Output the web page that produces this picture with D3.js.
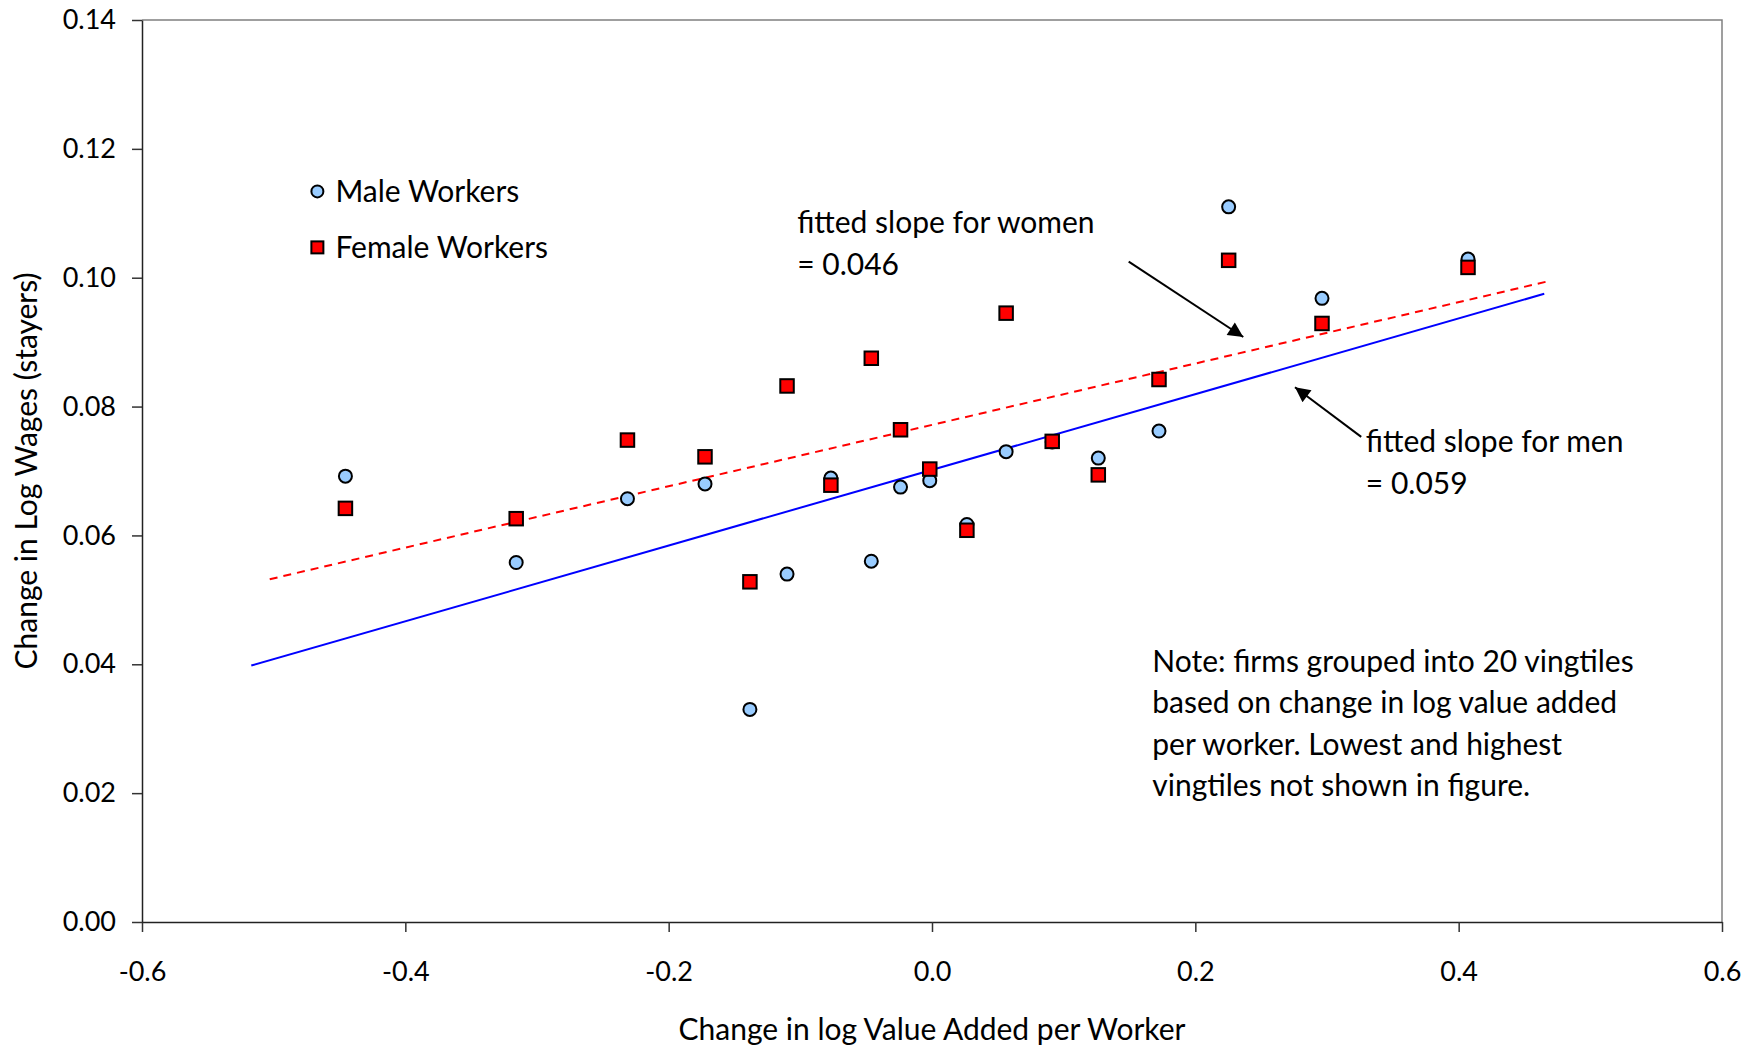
<!DOCTYPE html>
<html>
<head>
<meta charset="utf-8">
<script src="https://cdn.jsdelivr.net/npm/d3@7"></script>
<style>
	body { margin: 0; background: #fff; }
	text { font-family: Lato, "Open Sans", sans-serif; fill: #000; }
</style>
</head>
<body>
<div id="chart-area"></div>
<script>

// vingtile midpoints (change in log value added per worker)
const vingtileX = [-0.4455, -0.3158, -0.2313, -0.1724, -0.1383, -0.1101, -0.0768, -0.0461, -0.0239,
	-0.0017, 0.0265, 0.0563, 0.0913, 0.1263, 0.1724, 0.2253, 0.2962, 0.4071];

// change in log wages of stayers
const maleWage = [0.0692, 0.0558, 0.0657, 0.0680, 0.0330, 0.0540, 0.0689, 0.0560, 0.0675,
	0.0685, 0.0617, 0.0730, 0.0745, 0.0720, 0.0762, 0.1110, 0.0968, 0.1029];
const femaleWage = [0.0642, 0.0626, 0.0748, 0.0722, 0.0528, 0.0832, 0.0678, 0.0875, 0.0764,
	0.0703, 0.0608, 0.0945, 0.0746, 0.0694, 0.0842, 0.1027, 0.0929, 0.1016];

// fitted lines, endpoints [x, y]
const maleFit = [[-0.517, 0.0398], [0.465, 0.0975]];
const femaleFit = [[-0.503, 0.0532], [0.467, 0.0994]];

const xTicks = [-0.6, -0.4, -0.2, 0.0, 0.2, 0.4, 0.6];
const yTicks = [0.00, 0.02, 0.04, 0.06, 0.08, 0.10, 0.12, 0.14];

const legendLabels = ["Male Workers", "Female Workers"];
const noteLines = ["Note: firms grouped into 20 vingtiles", "based on change in log value added",
	"per worker. Lowest and highest", "vingtiles not shown in figure."];


class WageScatterVis {

	constructor(_parentElement) {
		this.parentElement = _parentElement;
		this.initVis();
	}

	initVis() {
		let vis = this;

		vis.margin = { top: 20, right: 39, bottom: 127, left: 142 };
		vis.width = 1761 - vis.margin.left - vis.margin.right;
		vis.height = 1049 - vis.margin.top - vis.margin.bottom;

		vis.svg = d3.select("#" + vis.parentElement).append("svg")
			.attr("width", 1761)
			.attr("height", 1049)
			.append("g")
			.attr("transform", "translate(" + vis.margin.left + "," + vis.margin.top + ")");

		vis.x = d3.scaleLinear().domain([-0.6, 0.6]).range([0, vis.width]);
		vis.y = d3.scaleLinear().domain([0, 0.14]).range([vis.height, 0]);

		// plot area border (top + right)
		vis.svg.append("path")
			.attr("d", "M0,0H" + vis.width + "V" + vis.height)
			.attr("fill", "none")
			.attr("stroke", "#808080")
			.attr("stroke-width", 1.5);

		// axes
		let xAxis = d3.axisBottom(vis.x).tickValues(xTicks).tickSize(10).tickSizeOuter(0)
			.tickFormat(d => d.toFixed(1));
		let yAxis = d3.axisLeft(vis.y).tickValues(yTicks).tickSize(10).tickSizeOuter(0)
			.tickFormat(d => d.toFixed(2));

		let gx = vis.svg.append("g")
			.attr("transform", "translate(0," + vis.height + ")")
			.call(xAxis);
		let gy = vis.svg.append("g").call(yAxis);

		[gx, gy].forEach(g => {
			g.select(".domain").attr("stroke", "#222").attr("stroke-width", 1.5);
			g.selectAll(".tick line").attr("stroke", "#333").attr("stroke-width", 1.5);
			g.selectAll(".tick text").style("font-size", "27px").attr("fill", "#000");
		});
		gx.selectAll(".tick text").attr("y", 40);
		gy.selectAll(".tick text").attr("x", -26);

		// axis titles
		vis.svg.append("text")
			.attr("x", vis.width / 2)
			.attr("y", vis.height + 118)
			.attr("text-anchor", "middle")
			.style("font-size", "30px")
			.text("Change in log Value Added per Worker");

		vis.svg.append("text")
			.attr("transform", "translate(" + (-105) + "," + (vis.height / 2) + ") rotate(-90)")
			.attr("text-anchor", "middle")
			.style("font-size", "30px")
			.text("Change in Log Wages (stayers)");

		// fitted lines
		let line = d3.line().x(d => vis.x(d[0])).y(d => vis.y(d[1]));

		vis.svg.append("path")
			.datum(maleFit)
			.attr("d", line)
			.attr("fill", "none")
			.attr("stroke", "#0000ff")
			.attr("stroke-width", 2);

		vis.svg.append("path")
			.datum(femaleFit)
			.attr("d", line)
			.attr("fill", "none")
			.attr("stroke", "#ff0000")
			.attr("stroke-width", 2)
			.attr("stroke-dasharray", "8,6");

		vis.wrangleData();
	}

	wrangleData() {
		let vis = this;

		vis.maleData = vingtileX.map((x, i) => ({ x: x, y: maleWage[i] }));
		vis.femaleData = vingtileX.map((x, i) => ({ x: x, y: femaleWage[i] }));

		vis.updateVis();
	}

	updateVis() {
		let vis = this;
		const sq = 13.5;

		// male workers: circles
		vis.svg.selectAll(".male")
			.data(vis.maleData)
			.join("circle")
			.attr("class", "male")
			.attr("cx", d => vis.x(d.x))
			.attr("cy", d => vis.y(d.y))
			.attr("r", 6.5)
			.attr("fill", "#99ccff")
			.attr("stroke", "#000")
			.attr("stroke-width", 2);

		// female workers: squares
		vis.svg.selectAll(".female")
			.data(vis.femaleData)
			.join("rect")
			.attr("class", "female")
			.attr("x", d => vis.x(d.x) - sq / 2)
			.attr("y", d => vis.y(d.y) - sq / 2)
			.attr("width", sq)
			.attr("height", sq)
			.attr("fill", "#ff0000")
			.attr("stroke", "#000")
			.attr("stroke-width", 2);

		// legend
		let legend = vis.svg.append("g")
			.attr("transform", "translate(" + vis.x(-0.4668) + "," + vis.y(0.1134) + ")");
		legend.append("circle")
			.attr("cx", 0).attr("cy", 0).attr("r", 6)
			.attr("fill", "#99ccff").attr("stroke", "#000").attr("stroke-width", 2);
		legend.append("rect")
			.attr("x", -6).attr("y", 50).attr("width", 12).attr("height", 12)
			.attr("fill", "#ff0000").attr("stroke", "#000").attr("stroke-width", 2);
		legend.selectAll(".legendLabel")
			.data(legendLabels)
			.join("text")
			.attr("class", "legendLabel")
			.attr("x", 18)
			.attr("y", (d, i) => i * 56)
			.attr("dy", "0.36em")
			.style("font-size", "30px")
			.text(d => d);

		// annotations
		vis.svg.append("defs").append("marker")
			.attr("id", "arrowHead")
			.attr("viewBox", "0 0 10 10")
			.attr("refX", 10).attr("refY", 5)
			.attr("markerUnits", "userSpaceOnUse")
			.attr("markerWidth", 18).attr("markerHeight", 15)
			.attr("orient", "auto")
			.append("path")
			.attr("d", "M0,0L10,5L0,10Z")
			.attr("fill", "#000");

		let arrows = [
			[[0.1494, 0.1025], [0.2364, 0.0908]],
			[[0.3260, 0.0753], [0.2757, 0.0830]]
		];
		vis.svg.selectAll(".arrow")
			.data(arrows)
			.join("line")
			.attr("class", "arrow")
			.attr("x1", d => vis.x(d[0][0])).attr("y1", d => vis.y(d[0][1]))
			.attr("x2", d => vis.x(d[1][0])).attr("y2", d => vis.y(d[1][1]))
			.attr("stroke", "#000")
			.attr("stroke-width", 2)
			.attr("marker-end", "url(#arrowHead)");

		let labels = [
			{ x: -0.1024, y: 0.1086, gap: 42, lines: ["fitted slope for women", "= 0.046"] },
			{ x: 0.3295, y: 0.0746, gap: 42, lines: ["fitted slope for men", "= 0.059"] },
			{ x: 0.1673, y: 0.0405, gap: 41.5, lines: noteLines }
		];
		labels.forEach(l => {
			vis.svg.append("text")
				.attr("x", vis.x(l.x))
				.attr("y", vis.y(l.y))
				.style("font-size", "30px")
				.selectAll("tspan")
				.data(l.lines)
				.join("tspan")
				.attr("x", vis.x(l.x))
				.attr("dy", (d, i) => i === 0 ? "0.36em" : l.gap + "px")
				.text(d => d);
		});
	}
}

new WageScatterVis("chart-area");
</script>
</body>
</html>
